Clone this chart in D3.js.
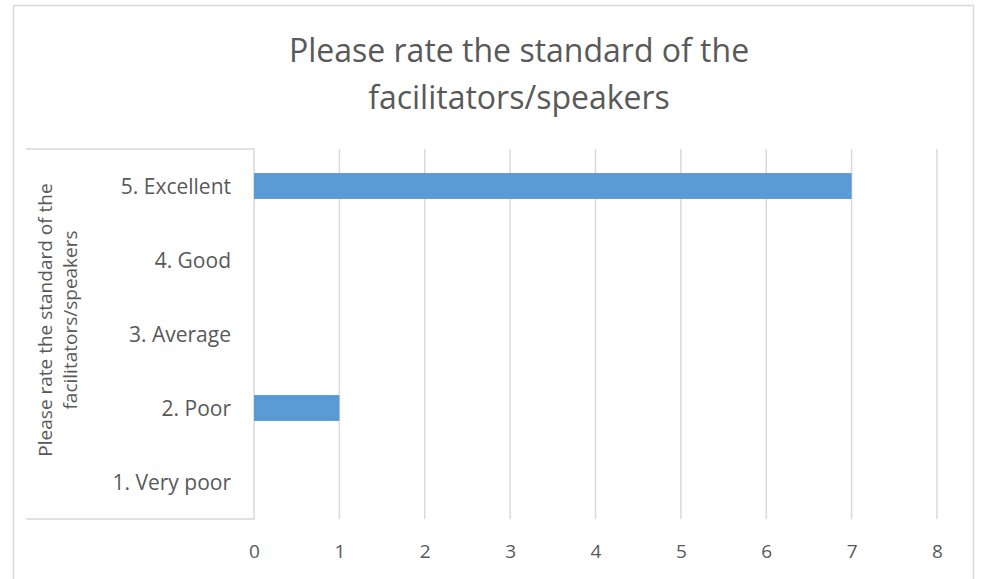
<!DOCTYPE html>
<html lang="en">
<head>
<meta charset="UTF-8">
<title>Facilitators rating</title>
<script src="https://d3js.org/d3.v7.min.js"></script>
<style>
    html, body { margin: 0; background: #fff; }
    svg { display: block; font-family: 'Open Sans', sans-serif; }
</style>
</head>
<body>
<svg width="982" height="579"></svg>
<script>
    // chart data
    const categories = ["5. Excellent", "4. Good", "3. Average", "2. Poor", "1. Very poor"];
    const counts = [7, 0, 0, 1, 0];
    const xTicks = [0, 1, 2, 3, 4, 5, 6, 7, 8];
    const titleLines = ["Please rate the standard of the", "facilitators/speakers"];
    const axisTitleLines = ["Please rate the standard of the", "facilitators/speakers"];

    const svg = d3.select("svg");
    const textColor = "#595959";
    const gridColor = "#d9d9d9";

    // outer chart border
    svg.append("rect")
        .attr("x", 13.5).attr("y", 5.5)
        .attr("width", 960).attr("height", 600)
        .attr("fill", "none").attr("stroke", gridColor).attr("stroke-width", 1.5);

    const plot = { left: 254, right: 937, top: 149, bottom: 519 };

    const x = d3.scaleLinear().domain([0, 8]).range([plot.left, plot.right]);
    const y = d3.scaleBand().domain(categories).range([plot.top, plot.bottom]).paddingInner(0.65).paddingOuter(0.325);

    // title
    svg.append("text")
        .attr("text-anchor", "middle")
        .attr("fill", textColor)
        .attr("font-size", 32)
        .selectAll("tspan").data(titleLines).join("tspan")
        .attr("x", 519).attr("y", (d, i) => 62 + i * 47)
        .text(d => d);

    // vertical gridlines
    svg.append("g").selectAll("line").data(xTicks.slice(1)).join("line")
        .attr("x1", d => x(d)).attr("x2", d => x(d))
        .attr("y1", plot.top).attr("y2", plot.bottom)
        .attr("stroke", gridColor).attr("stroke-width", 1.5);

    // category box (open on left)
    svg.append("path")
        .attr("d", `M26,${plot.top}H${plot.left}V${plot.bottom}H26`)
        .attr("fill", "none").attr("stroke", gridColor).attr("stroke-width", 1.5);

    // bars
    svg.append("g").selectAll("rect").data(categories).join("rect")
        .attr("x", x(0))
        .attr("y", d => y(d))
        .attr("width", (d, i) => x(counts[i]) - x(0))
        .attr("height", y.bandwidth())
        .attr("fill", "#5b9bd5");

    // category labels
    svg.append("g").selectAll("text").data(categories).join("text")
        .attr("x", 231)
        .attr("y", d => y(d) + y.bandwidth() / 2)
        .attr("dy", "0.38em")
        .attr("text-anchor", "end")
        .attr("fill", textColor)
        .attr("font-size", 21)
        .text(d => d);

    // x axis tick labels
    const xAxis = d3.axisBottom(x).tickValues(xTicks).tickSize(0).tickPadding(0);
    const gx = svg.append("g")
        .attr("transform", `translate(0,${plot.bottom + 25})`)
        .call(xAxis);
    gx.select(".domain").remove();
    gx.selectAll("text")
        .attr("fill", textColor)
        .attr("font-size", 19)
        .attr("font-family", "'Open Sans', sans-serif");

    // rotated axis title
    svg.append("text")
        .attr("transform", "translate(0,320) rotate(-90)")
        .attr("text-anchor", "middle")
        .attr("fill", textColor)
        .attr("font-size", 19)
        .selectAll("tspan").data(axisTitleLines).join("tspan")
        .attr("x", 0).attr("y", (d, i) => 52 + i * 25)
        .text(d => d);
</script>
</body>
</html>
